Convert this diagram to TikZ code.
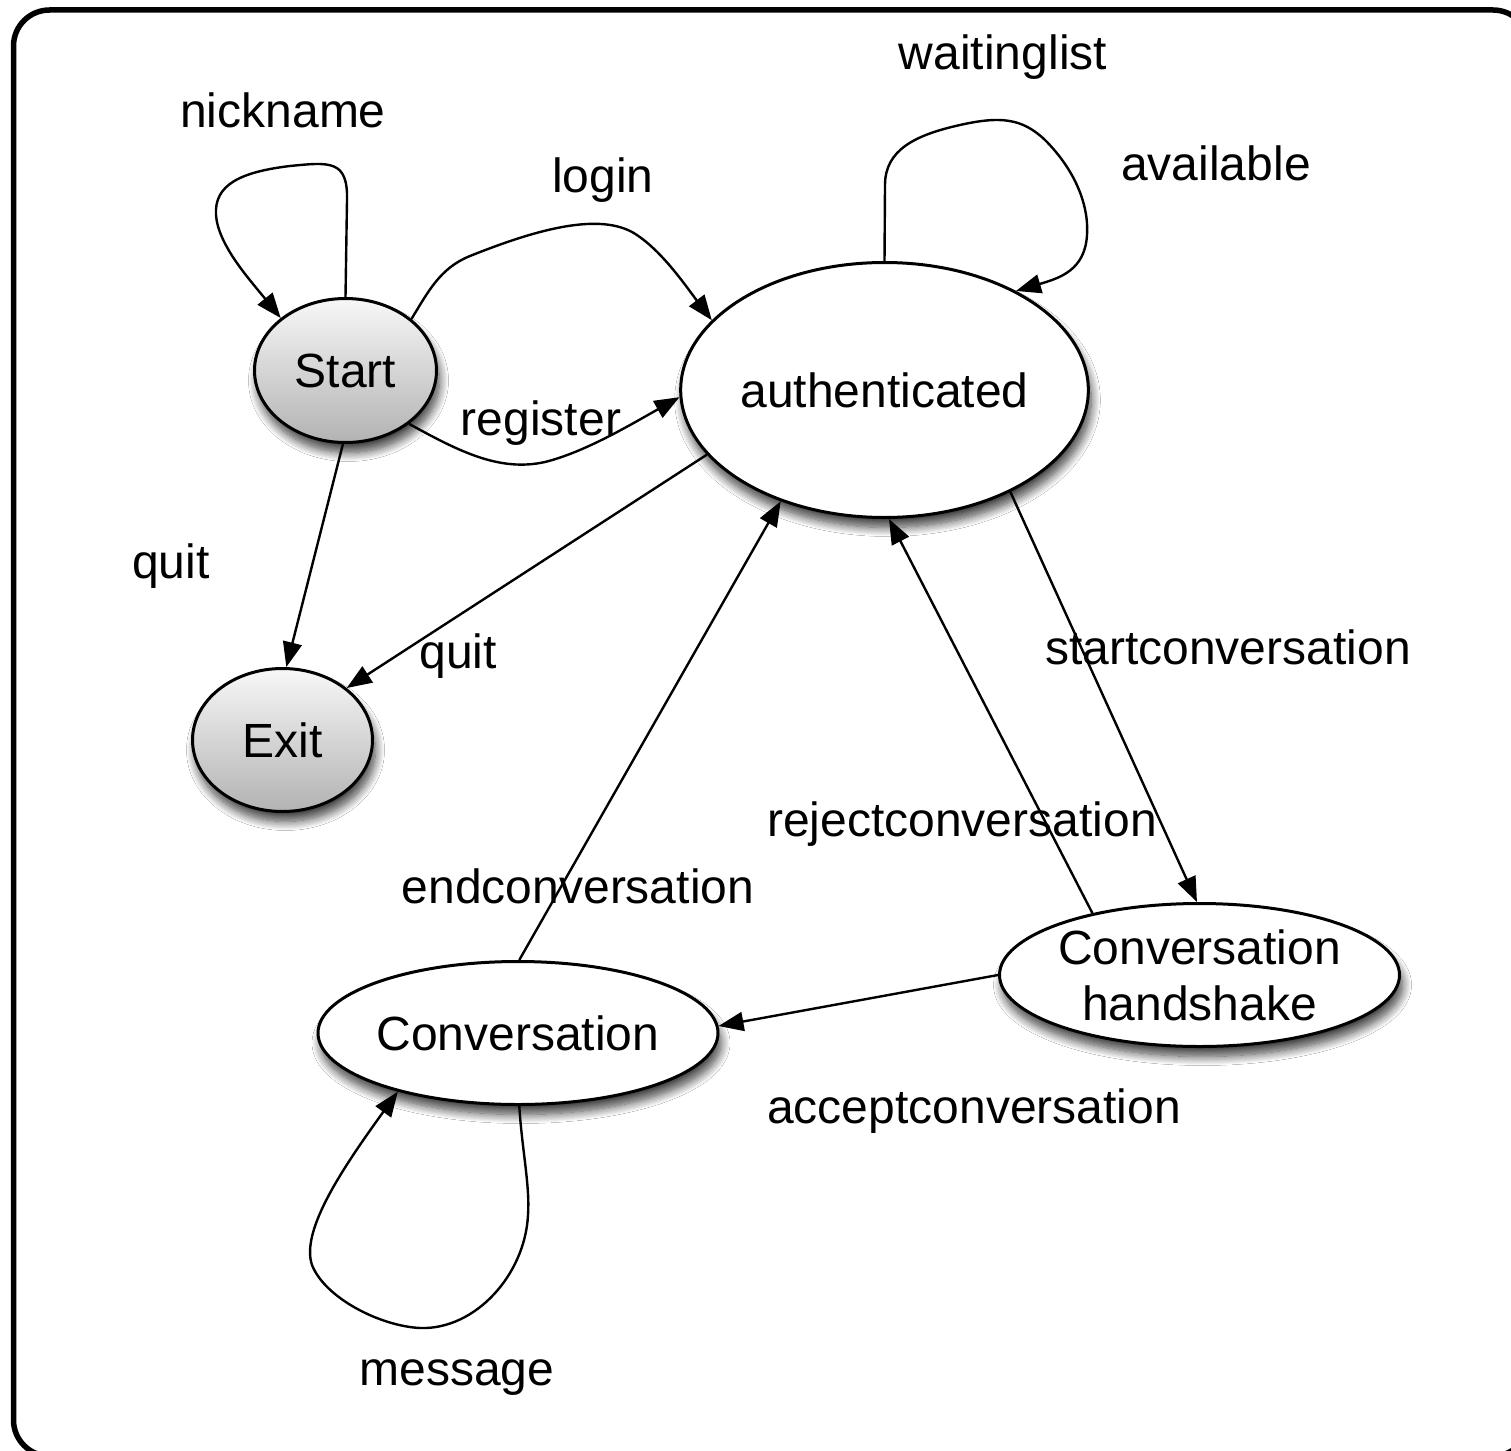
\documentclass[tikz,border=0pt]{standalone}
\usepackage{fontspec}
\setmainfont{Liberation Sans}
\usetikzlibrary{arrows.meta,shapes.geometric,shadows.blur}
\tikzset{
  state/.style={ellipse, draw=black, line width=3pt, fill=white, inner sep=0pt,
    font=\fontsize{48}{56}\selectfont,
    blur shadow={shadow xshift=3pt, shadow yshift=-10pt, shadow blur radius=9pt, shadow blur steps=12, shadow opacity=75}},
  gstate/.style={state, top color=black!3, bottom color=black!30},
  lbl/.style={anchor=base, inner sep=0pt, font=\fontsize{48}{56}\selectfont},
  edge/.style={line width=2.4pt, -{Triangle[length=25pt,width=19pt]}},
}
\begin{document}
\begin{tikzpicture}[x=1pt,y=-1pt]
\useasboundingbox (0,0) rectangle (1511,1450);
\clip (0,0) rectangle (1511,1450);
\fill[white] (0,0) rectangle (1511,1450);
\draw[line width=5.5pt, rounded corners=36pt] (13.5,10) rectangle (1529,1456);

% states
\node[gstate, minimum width=182pt, minimum height=144pt] (start) at (345.5,370.5) {Start};
\node[gstate, minimum width=180pt, minimum height=143pt] (exit) at (282.5,740) {Exit};
\node[state, minimum width=400pt, minimum height=255pt] (auth) at (884.5,390) {authenticated};
\node[state, minimum width=398pt, minimum height=143pt, align=center] (hs) at (1199.5,975) {Conversation\\handshake};
\node[state, minimum width=399pt, minimum height=143pt] (conv) at (518,1033) {Conversation};

% transitions
\draw[edge] (start.90) -- (347,200) .. controls (348,160) and (330,162) .. (290,166)
  .. controls (240,172) and (214,185) .. (216,215)
  .. controls (218,245) and (250,280) .. (start.141);
\draw[edge] (start.38) .. controls (428,292) and (440,268) .. (470,256)
  .. controls (530,232) and (595,212) .. (632,232)
  .. controls (660,248) and (685,285) .. (auth.158);
\draw[edge] (start.-40) .. controls (460,452) and (500,472) .. (545,462)
  .. controls (585,452) and (630,425) .. (auth.182);
\draw[edge] (start.-92) -- (exit.87);
\draw[edge] (auth.200) -- (exit.39);
\draw[edge] (auth.90) -- (885,185) .. controls (885,150) and (915,135) .. (960,125)
  .. controls (1000,116) and (1022,118) .. (1045,140)
  .. controls (1075,170) and (1089,205) .. (1087,235)
  .. controls (1085,270) and (1060,278) .. (auth.37);
\draw[edge] (auth.-39) -- (hs.92);
\draw[edge] (hs.150) -- (auth.-88);
\draw[edge] (conv.89) -- (auth.227);
\draw[edge] (hs.180) -- (conv.2);
\draw[edge] (conv.-89) .. controls (522,1150) and (530,1185) .. (528,1215)
  .. controls (525,1275) and (475,1330) .. (420,1328)
  .. controls (380,1326) and (325,1298) .. (312,1265)
  .. controls (300,1230) and (345,1165) .. (conv.206);

% labels
\node[lbl] (lnick) at (283,128) {nickname};
\node[lbl] (llogin) at (603,193) {login};
\node[lbl] (lwait) at (1003,70) {waitinglist};
\node[lbl] (lavail) at (1216,181) {available};
\node[lbl] (lreg) at (541,435) {register};
\node[lbl] (lquita) at (171,578) {quit};
\node[lbl] (lquitb) at (458,668) {quit};
\node[lbl] (lstart) at (1228,664) {startconversation};
\node[lbl] (lreject) at (962,836) {rejectconversation};
\node[lbl] (lend) at (578,903) {endconversation};
\node[lbl] (laccept) at (974,1123) {acceptconversation};
\node[lbl] (lmsg) at (457,1385) {message};
\end{tikzpicture}
\end{document}
